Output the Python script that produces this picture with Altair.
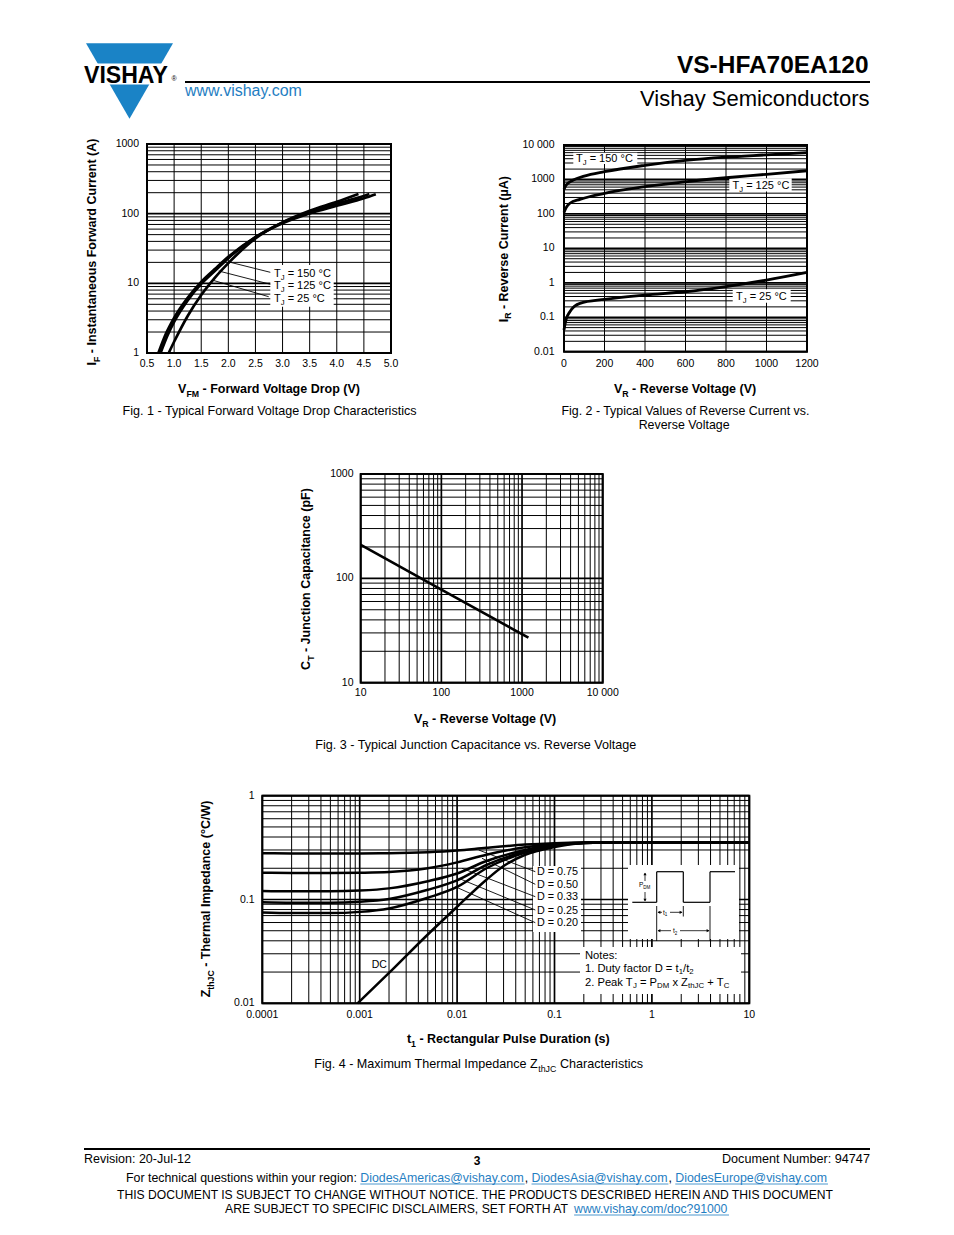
import altair as alt
import pandas as pd
import math

FONT = "Liberation Sans"
BLUE = "#1f7ec2"
LOGO_BLUE = "#1a83c6"
OFF = 8.0  # page margin: page px -> chart px

# ---------------- chart values ----------------
# Fig. 1  forward voltage (V) vs forward current (A)
fig1_v_150 = [0.71, 0.85, 1.0, 1.25, 1.5, 1.75, 2.0, 2.5, 3.0, 3.5, 4.0, 4.5, 4.72]
fig1_i_150 = [1, 1.9, 3.2, 6.2, 10.5, 16, 24, 46, 73, 101, 130, 166, 190]
fig1_v_125 = [0.75, 0.88, 1.0, 1.25, 1.5, 1.75, 2.0, 2.5, 3.0, 3.5, 4.0, 4.4, 4.6]
fig1_i_125 = [1, 1.8, 2.8, 5.7, 9.8, 15, 23, 46, 75, 106, 139, 170, 192]
fig1_v_25 = [0.90, 1.0, 1.25, 1.5, 1.75, 2.0, 2.5, 3.0, 3.5, 4.0, 4.4]
fig1_i_25 = [1, 1.45, 3.4, 6.8, 12, 19.5, 44, 75, 110, 148, 192]
fig1_x_ticks = [0.5, 1.0, 1.5, 2.0, 2.5, 3.0, 3.5, 4.0, 4.5, 5.0]
fig1_x_labels = ["0.5", "1.0", "1.5", "2.0", "2.5", "3.0", "3.5", "4.0", "4.5", "5.0"]
fig1_y_ticks = [1, 10, 100, 1000]
fig1_y_labels = ["1", "10", "100", "1000"]

# Fig. 2  reverse voltage (V) vs reverse current (uA)
fig2_v_150 = [0, 10, 46, 100, 200, 400, 600, 800, 1000, 1200]
fig2_i_150 = [515, 680, 960, 1250, 1680, 2570, 3570, 4440, 5180, 6030]
fig2_v_125 = [0, 10, 29, 79, 200, 400, 600, 800, 1000, 1200]
fig2_i_125 = [110, 150, 204, 265, 396, 617, 855, 1120, 1410, 1790]
fig2_v_25 = [0, 10, 29, 79, 200, 400, 600, 800, 1000, 1200]
fig2_i_25 = [0.043, 0.085, 0.145, 0.254, 0.33, 0.44, 0.55, 0.78, 1.2, 2.0]
fig2_x_ticks = [0, 200, 400, 600, 800, 1000, 1200]
fig2_x_labels = ["0", "200", "400", "600", "800", "1000", "1200"]
fig2_y_ticks = [0.01, 0.1, 1, 10, 100, 1000, 10000]
fig2_y_labels = ["0.01", "0.1", "1", "10", "100", "1000", "10 000"]

# Fig. 3  reverse voltage (V) vs junction capacitance (pF)
fig3_v = [10, 100, 1200]
fig3_c = [210, 78, 27]
fig3_x_ticks = [10, 100, 1000, 10000]
fig3_x_labels = ["10", "100", "1000", "10 000"]
fig3_y_ticks = [10, 100, 1000]
fig3_y_labels = ["10", "100", "1000"]

# Fig. 4  pulse duration (s) vs thermal impedance (degC/W)
fig4_t = [1e-4, 2e-4, 5e-4, 1e-3, 2e-3, 5e-3, 1e-2, 2e-2, 5e-2, 0.1, 0.2, 0.5, 1, 10]
fig4_d075 = [0.279, 0.278, 0.278, 0.278, 0.279, 0.285, 0.296, 0.315, 0.338, 0.349, 0.355, 0.357, 0.357, 0.357]
fig4_d050 = [0.181, 0.180, 0.180, 0.181, 0.184, 0.200, 0.228, 0.270, 0.318, 0.342, 0.353, 0.357, 0.357, 0.357]
fig4_d033 = [0.121, 0.120, 0.120, 0.122, 0.128, 0.150, 0.178, 0.235, 0.300, 0.337, 0.352, 0.357, 0.357, 0.357]
fig4_d025 = [0.094, 0.093, 0.093, 0.095, 0.101, 0.124, 0.153, 0.215, 0.290, 0.334, 0.351, 0.357, 0.357, 0.357]
fig4_d020 = [0.075, 0.074, 0.074, 0.076, 0.082, 0.104, 0.132, 0.200, 0.283, 0.332, 0.350, 0.357, 0.357, 0.357]
fig4_dc_t = [0.00095, 0.002, 0.005, 0.01, 0.02, 0.03, 0.05, 0.1, 0.2, 0.5, 1, 10]
fig4_dc_z = [0.01, 0.0196, 0.046, 0.085, 0.155, 0.21, 0.27, 0.32, 0.35, 0.357, 0.357, 0.357]
fig4_x_ticks = [1e-4, 1e-3, 1e-2, 0.1, 1, 10]
fig4_x_labels = ["0.0001", "0.001", "0.01", "0.1", "1", "10"]
fig4_y_ticks = [0.01, 0.1, 1]
fig4_y_labels = ["0.01", "0.1", "1"]

# ---------------- font metrics (Arial / Liberation Sans, 1/1000 em) ----------------
REG = dict(zip(" !\"#$%&'()*+,-./", [278, 278, 355, 556, 556, 889, 667, 191, 333, 333, 389, 584, 278, 333, 278, 278]))
REG.update({d: 556 for d in "0123456789"})
REG.update(dict(zip(":;<=>?@", [278, 278, 584, 584, 584, 556, 1015])))
REG.update(dict(zip("ABCDEFGHIJKLMNOPQRSTUVWXYZ",
                    [667, 667, 722, 722, 667, 611, 778, 722, 278, 500, 667, 556, 833, 722, 778, 667, 778, 722, 667, 611, 722, 667, 944, 667, 667, 611])))
REG.update(dict(zip("abcdefghijklmnopqrstuvwxyz",
                    [556, 556, 500, 556, 556, 278, 556, 556, 222, 222, 500, 222, 833, 556, 556, 556, 556, 333, 500, 278, 556, 500, 722, 500, 500, 500])))
REG.update({"°": 400, "µ": 556, "®": 737})
BOLD = dict(REG)
BOLD.update(dict(zip("!:?@", [333, 333, 611, 975])))
BOLD.update(dict(zip("ABCDEFGHIJKLMNOPQRSTUVWXYZ",
                     [722, 722, 722, 722, 667, 611, 778, 722, 278, 556, 722, 611, 833, 722, 778, 667, 778, 722, 667, 611, 722, 667, 944, 667, 667, 611])))
BOLD.update(dict(zip("abcdefghijklmnopqrstuvwxyz",
                     [556, 611, 556, 611, 556, 333, 611, 611, 278, 278, 556, 278, 889, 611, 611, 611, 611, 389, 556, 333, 611, 556, 778, 556, 556, 500])))
BOLD.update({"µ": 611})

TEXTS = []
RULES = []
RECTS = []
HEADS = []


def rich(runs, x, y, size=None, fit=None, bold=False, align="left", angle=0, color="black", sub=0.7, drop=0.28):
    tab = BOLD if bold else REG
    norm = []
    for r in runs:
        if isinstance(r, str):
            r = (r, 0)
        norm.append((r[0], r[1], r[2] if len(r) > 2 else color))

    def w1(t, s):
        return sum(tab.get(ch, 556) for ch in t) / 1000.0 * (sub if s else 1.0)

    unit = sum(w1(t, s) for t, s, c in norm)
    if size is None:
        size = fit / unit
    total = unit * size
    off = {"left": 0.0, "center": -total / 2, "right": -total}[align]
    spans = []
    for t, s, c in norm:
        w = w1(t, s) * size
        stripped = t.lstrip(" ")
        lead = w1(t[: len(t) - len(stripped)], s) * size
        shown = stripped.rstrip(" ")
        fs = size * (sub if s else 1.0)
        shift = drop * size if s else 0.0
        a = off + lead
        if shown:
            if angle == 0:
                TEXTS.append(dict(x=x + a - OFF, y=y + shift - OFF, t=shown, s=fs, c=c, b=bold, a=0))
            else:
                TEXTS.append(dict(x=x + shift - OFF, y=y - a - OFF, t=shown, s=fs, c=c, b=bold, a=270))
        spans.append((x + off, x + off + w))
        off += w
    return spans, size


def line(x1, y1, x2, y2, w=1.0, color="black"):
    RULES.append(dict(x1=x1 - OFF, y1=y1 - OFF, x2=x2 - OFF, y2=y2 - OFF, w=w, c=color))


def box(x1, y1, x2, y2):
    RECTS.append(dict(x1=x1 - OFF, y1=y1 - OFF, x2=x2 - OFF, y2=y2 - OFF))


def head(x, y, shape, size=14):
    HEADS.append(dict(x=x - OFF, y=y - OFF, shape=shape, size=size))


def scale(kind, dom, rng):
    r = [v - OFF for v in rng]
    if kind == "log":
        return alt.Scale(type="log", domain=dom, range=r, nice=False)
    return alt.Scale(type="linear", domain=dom, range=r, nice=False, zero=False)


FIGS = {
    "f1": dict(xs=scale("linear", [0.5, 5.0], [147, 391]), ys=scale("log", [1, 1000], [353, 144]),
               xd=[0.5, 5.0], yd=[1, 1000]),
    "f2": dict(xs=scale("linear", [0, 1200], [564, 807]), ys=scale("log", [0.01, 10000], [351.7, 145]),
               xd=[0, 1200], yd=[0.01, 10000]),
    "f3": dict(xs=scale("log", [10, 10000], [360.7, 602.7]), ys=scale("log", [10, 1000], [682.7, 474]),
               xd=[10, 10000], yd=[10, 1000]),
    "f4": dict(xs=scale("log", [1e-4, 10], [262.3, 749.3]), ys=scale("log", [0.01, 1], [1003.3, 795.7]),
               xd=[1e-4, 10], yd=[0.01, 1]),
}


def decades(lo, hi):
    vals = [m * 10.0 ** k for k in range(lo, hi) for m in range(1, 10)]
    return vals + [10.0 ** hi]


def is_decade(v):
    if v <= 0:
        return False
    lv = math.log10(v)
    return abs(lv - round(lv)) < 1e-9


GRIDS = {
    "f1": (fig1_x_ticks, decades(0, 3), False, True),
    "f2": (fig2_x_ticks, decades(-2, 4), False, True),
    "f3": (decades(1, 4), decades(1, 3), True, True),
    "f4": (decades(-4, 1), decades(-2, 0), True, True),
}


def grid_layers(key):
    f = FIGS[key]
    xv, yv, xlog, ylog = GRIDS[key]
    vdf = pd.DataFrame({"v": xv, "lo": f["yd"][0], "hi": f["yd"][1],
                        "w": [1.7 if (xlog and is_decade(v)) else 1.0 for v in xv]})
    hdf = pd.DataFrame({"v": yv, "lo": f["xd"][0], "hi": f["xd"][1],
                        "w": [1.7 if (ylog and is_decade(v)) else 1.0 for v in yv]})
    vr = alt.Chart(vdf).mark_rule(color="black").encode(
        x=alt.X("v:Q", scale=f["xs"], axis=None),
        y=alt.Y("lo:Q", scale=f["ys"], axis=None), y2="hi:Q",
        strokeWidth=alt.StrokeWidth("w:Q", scale=None, legend=None))
    hr = alt.Chart(hdf).mark_rule(color="black").encode(
        y=alt.Y("v:Q", scale=f["ys"], axis=None),
        x=alt.X("lo:Q", scale=f["xs"], axis=None), x2="hi:Q",
        strokeWidth=alt.StrokeWidth("w:Q", scale=None, legend=None))
    fr = alt.Chart(pd.DataFrame({"x0": [f["xd"][0]], "x1": [f["xd"][1]], "y0": [f["yd"][0]], "y1": [f["yd"][1]]})
                   ).mark_rect(fillOpacity=0, stroke="black", strokeWidth=2).encode(
        x=alt.X("x0:Q", scale=f["xs"], axis=None), x2="x1:Q",
        y=alt.Y("y0:Q", scale=f["ys"], axis=None), y2="y1:Q")
    return [vr, hr, fr]


def curves(key, series, w=2.5):
    f = FIGS[key]
    rows = []
    for name, xs, ys in series:
        for a, b in zip(xs, ys):
            rows.append({"series": name, "xv": a, "yv": b})
    return alt.Chart(pd.DataFrame(rows)).mark_line(color="black", strokeWidth=w, interpolate="monotone").encode(
        x=alt.X("xv:Q", scale=f["xs"], axis=None),
        y=alt.Y("yv:Q", scale=f["ys"], axis=None),
        detail="series:N")


def tick_labels(key, xt, xl, yt, yl, x_label_y, y_label_x, size=10.5):
    f = FIGS[key]
    xl_chart = alt.Chart(pd.DataFrame({"v": xt, "lab": xl})).mark_text(
        font=FONT, fontSize=size, align="center", baseline="middle", color="black").encode(
        x=alt.X("v:Q", scale=f["xs"], axis=None), y=alt.value(x_label_y - OFF), text="lab:N")
    yl_chart = alt.Chart(pd.DataFrame({"v": yt, "lab": yl})).mark_text(
        font=FONT, fontSize=size, align="right", baseline="middle", color="black").encode(
        y=alt.Y("v:Q", scale=f["ys"], axis=None), x=alt.value(y_label_x - OFF), text="lab:N")
    return [xl_chart, yl_chart]


# ---------------- page header ----------------
head(129.5, 81, "triangle-down", 87 * 87)
box(82, 63.5, 178, 84.5)
rich(["VISHAY"], 84, 82.5, fit=86, bold=True)
rich(["®"], 171.5, 81, size=7)
rich(["VS-HFA70EA120"], 870, 73, fit=193, bold=True, align="right")
line(185, 82, 870, 82, 2.2)
rich([("www.vishay.com", 0, BLUE)], 185, 96, fit=119)
rich(["Vishay Semiconductors"], 870, 106, fit=230, align="right")

# ---------------- Fig. 1 annotations ----------------
rich([("I", 0), ("F", 1), (" - Instantaneous Forward Current (A)", 0)], 96, 252, size=12.5, bold=True,
     angle=270, align="center")
rich([("V", 0), ("FM", 1), (" - Forward Voltage Drop (V)", 0)], 269.5, 393, size=12.5, bold=True, align="center")
rich(["Fig. 1 - Typical Forward Voltage Drop Characteristics"], 270.5, 415, fit=296, align="center")
box(270.3, 265, 333.7, 306.7)
for lab, yb in [(" = 150 °C", 276.7), (" = 125 °C", 289), (" = 25 °C", 301.7)]:
    rich([("T", 0), ("J", 1), (lab, 0)], 274, yb, size=11)
line(270.3, 272.3, 230.3, 262.3, 0.9)
line(270.3, 284.3, 218.7, 271, 0.9)
line(268.7, 296.7, 212, 280, 0.9)

# ---------------- Fig. 2 annotations ----------------
rich([("I", 0), ("R", 1), (" - Reverse Current (µA)", 0)], 507.5, 249, size=12.5, bold=True,
     angle=270, align="center")
rich([("V", 0), ("R", 1), (" - Reverse Voltage (V)", 0)], 685.5, 393, size=12.5, bold=True, align="center")
rich(["Fig. 2 - Typical Values of Reverse Current vs."], 686.5, 415, fit=250, align="center")
rich(["Reverse Voltage"], 684.5, 429, fit=91.7, align="center")
box(573.3, 152.7, 637.3, 164)
box(729.3, 178.3, 791.7, 191.5)
box(732.7, 289.3, 790.7, 302.8)
rich([("T", 0), ("J", 1), (" = 150 °C", 0)], 576, 161.5, size=11)
rich([("T", 0), ("J", 1), (" = 125 °C", 0)], 732.5, 188.5, size=11)
rich([("T", 0), ("J", 1), (" = 25 °C", 0)], 736, 299.5, size=11)

# ---------------- Fig. 3 annotations ----------------
rich([("C", 0), ("T", 1), (" - Junction Capacitance (pF)", 0)], 310, 579, size=12.5, bold=True,
     angle=270, align="center")
rich([("V", 0), ("R", 1), (" - Reverse Voltage (V)", 0)], 485.5, 723, size=12.5, bold=True, align="center")
rich(["Fig. 3 - Typical Junction Capacitance vs. Reverse Voltage"], 476.7, 749, fit=323, align="center")

# ---------------- Fig. 4 annotations ----------------
rich([("Z", 0), ("thJC", 1), (" - Thermal Impedance (°C/W)", 0)], 210, 899, size=12.5, bold=True,
     angle=270, align="center")
rich([("t", 0), ("1", 1), (" - Rectangular Pulse Duration (s)", 0)], 508.3, 1043, size=12.5, bold=True, align="center")
rich([("Fig. 4 - Maximum Thermal Impedance Z", 0), ("thJC", 1), (" Characteristics", 0)], 478.7, 1068, fit=329,
     align="center")
box(533, 866, 581, 932)
for lab, yb in [("D = 0.75", 874.5), ("D = 0.50", 887.7), ("D = 0.33", 900.3), ("D = 0.25", 913.7), ("D = 0.20", 926.3)]:
    rich([lab], 537, yb, size=10.8)
line(535.3, 871.7, 478.7, 850, 0.9)
line(535.3, 884.3, 482, 858.3, 0.9)
line(535.3, 896.7, 462, 868.3, 0.9)
line(535.3, 910, 458.7, 878.3, 0.9)
line(535.3, 922.7, 455.3, 886.7, 0.9)
rich(["DC"], 371.7, 967.7, size=10.5)
# inset pulse diagram
box(628, 865, 739, 939)
for seg in [(632.3, 902.3, 656.7, 902.3), (656.7, 902.3, 656.7, 871.7), (656.7, 871.7, 683.3, 871.7),
            (683.3, 871.7, 683.3, 902.3), (683.3, 902.3, 710, 902.3), (710, 902.3, 710, 871.7),
            (710, 871.7, 735, 871.7)]:
    line(*seg, 1.2)
for seg in [(656.7, 906, 656.7, 941), (683.3, 906, 683.3, 916.5), (710, 906, 710, 941)]:
    line(*seg, 0.9)
line(645, 873, 645, 881, 0.8)
line(645, 892, 645, 901, 0.8)
head(645, 874, "triangle-up", 10)
head(645, 900, "triangle-down", 10)
rich([("P", 0), ("DM", 1)], 639, 887, size=6.5)
line(658, 912.3, 662, 912.3, 0.8)
line(670, 912.3, 682, 912.3, 0.8)
head(659, 912.3, "triangle-left", 10)
head(681, 912.3, "triangle-right", 10)
rich([("t", 0), ("1", 1)], 663, 914.5, size=6.5)
line(658, 930.7, 671, 930.7, 0.8)
line(680, 930.7, 709, 930.7, 0.8)
head(659, 930.7, "triangle-left", 10)
head(708, 930.7, "triangle-right", 10)
rich([("t", 0), ("2", 1)], 673, 933, size=6.5)
# notes
box(580, 947, 741, 994)
rich(["Notes:"], 585, 959, size=11.2)
rich([("1. Duty factor D = t", 0), ("1", 1), ("/t", 0), ("2", 1)], 585, 972, size=11.2, drop=0.22)
rich([("2. Peak T", 0), ("J", 1), (" = P", 0), ("DM", 1), (" x Z", 0), ("thJC", 1), (" + T", 0), ("C", 1)],
     585, 986, size=11.2, drop=0.22)

# ---------------- footer ----------------
line(84, 1149, 870, 1149, 2.2)
rich(["Revision: 20-Jul-12"], 84, 1163, fit=107)
rich(["3"], 477, 1165, size=12, bold=True, align="center")
rich(["Document Number: 94747"], 870, 1163, fit=148, align="right")
spans, _ = rich([("For technical questions within your region: ", 0, "black"), ("DiodesAmericas@vishay.com", 0, BLUE),
                 (", ", 0, "black"), ("DiodesAsia@vishay.com", 0, BLUE), (", ", 0, "black"),
                 ("DiodesEurope@vishay.com", 0, BLUE)], 477, 1182, fit=702, align="center")
for i in (1, 3, 5):
    line(spans[i][0], 1184, spans[i][1], 1184, 0.8, BLUE)
rich(["THIS DOCUMENT IS SUBJECT TO CHANGE WITHOUT NOTICE. THE PRODUCTS DESCRIBED HEREIN AND THIS DOCUMENT"],
     476.5, 1199, fit=719, align="center")
spans, _ = rich([("ARE SUBJECT TO SPECIFIC DISCLAIMERS, SET FORTH AT ", 0, "black"),
                 ("www.vishay.com/doc?91000", 0, BLUE)], 477, 1213, fit=504, align="center")
line(spans[1][0], 1215, spans[1][1], 1215, 0.8, BLUE)

# ---------------- assemble layers ----------------
heads_df = pd.DataFrame(HEADS)
logo = alt.Chart(heads_df.iloc[:1]).mark_point(filled=True, opacity=1, color=LOGO_BLUE, strokeWidth=0).encode(
    x=alt.X("x:Q", scale=None, axis=None), y=alt.Y("y:Q", scale=None, axis=None),
    shape=alt.Shape("shape:N", scale=None, legend=None), size=alt.Size("size:Q", scale=None, legend=None))
arrowheads = alt.Chart(heads_df.iloc[1:]).mark_point(filled=True, opacity=1, color="black", strokeWidth=0).encode(
    x=alt.X("x:Q", scale=None, axis=None), y=alt.Y("y:Q", scale=None, axis=None),
    shape=alt.Shape("shape:N", scale=None, legend=None), size=alt.Size("size:Q", scale=None, legend=None))

rects = alt.Chart(pd.DataFrame(RECTS)).mark_rect(color="white").encode(
    x=alt.X("x1:Q", scale=None, axis=None), x2="x2:Q",
    y=alt.Y("y1:Q", scale=None, axis=None), y2="y2:Q")

rules = alt.Chart(pd.DataFrame(RULES)).mark_rule().encode(
    x=alt.X("x1:Q", scale=None, axis=None), x2="x2:Q",
    y=alt.Y("y1:Q", scale=None, axis=None), y2="y2:Q",
    strokeWidth=alt.StrokeWidth("w:Q", scale=None, legend=None),
    color=alt.Color("c:N", scale=None, legend=None))

tdf = pd.DataFrame(TEXTS)
text_layers = []
for (b, a), sub_df in tdf.groupby(["b", "a"]):
    text_layers.append(
        alt.Chart(sub_df.drop(columns=["b", "a"])).mark_text(
            font=FONT, fontWeight="bold" if b else "normal", angle=int(a), align="left", baseline="alphabetic").encode(
            x=alt.X("x:Q", scale=None, axis=None), y=alt.Y("y:Q", scale=None, axis=None),
            text="t:N", size=alt.Size("s:Q", scale=None, legend=None),
            color=alt.Color("c:N", scale=None, legend=None)))

grid_all = []
for k in ["f1", "f2", "f3", "f4"]:
    grid_all += grid_layers(k)

curve_layers = [
    curves("f1", [("150", fig1_v_150, fig1_i_150), ("125", fig1_v_125, fig1_i_125), ("25", fig1_v_25, fig1_i_25)], 2.7),
    curves("f2", [("150", fig2_v_150, fig2_i_150), ("125", fig2_v_125, fig2_i_125), ("25", fig2_v_25, fig2_i_25)], 2.8),
    curves("f3", [("ct", fig3_v, fig3_c)], 2.6),
    curves("f4", [("0.75", fig4_t, fig4_d075), ("0.50", fig4_t, fig4_d050), ("0.33", fig4_t, fig4_d033),
                  ("0.25", fig4_t, fig4_d025), ("0.20", fig4_t, fig4_d020), ("DC", fig4_dc_t, fig4_dc_z)], 2.5),
]

tick_layers = []
tick_layers += tick_labels("f1", fig1_x_ticks, fig1_x_labels, fig1_y_ticks, fig1_y_labels, 364, 139)
tick_layers += tick_labels("f2", fig2_x_ticks, fig2_x_labels, fig2_y_ticks, fig2_y_labels, 364, 554.5)
tick_layers += tick_labels("f3", fig3_x_ticks, fig3_x_labels, fig3_y_ticks, fig3_y_labels, 693, 353.5)
tick_layers += tick_labels("f4", fig4_x_ticks, fig4_x_labels, fig4_y_ticks, fig4_y_labels, 1015, 254.5)

layers = [logo] + grid_all + [rects] + curve_layers + [rules, arrowheads] + tick_layers + text_layers

chart = alt.layer(*layers).properties(
    width=938, height=1219, padding=0, autosize="none", background="white"
).resolve_scale(
    x="independent", y="independent"
).configure_view(strokeWidth=0)

chart.save("out.html", embed_options={"renderer": "svg", "actions": False})
